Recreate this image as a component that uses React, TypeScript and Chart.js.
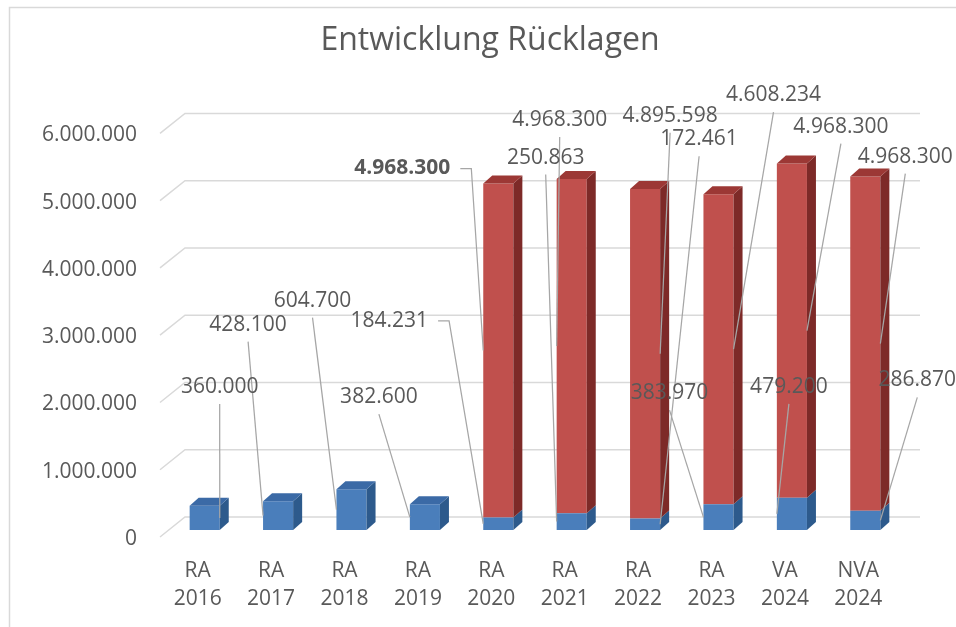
import React, { useEffect, useRef } from "react";
import { Chart, registerables } from "chart.js";

Chart.register(...registerables);

// ---------- data ----------
const categories: string[][] = [
  ["RA", "2016"], ["RA", "2017"], ["RA", "2018"], ["RA", "2019"], ["RA", "2020"],
  ["RA", "2021"], ["RA", "2022"], ["RA", "2023"], ["VA", "2024"], ["NVA", "2024"],
];
const seriesBlue: (number | null)[] = [360000, 428100, 604700, 382600, 184231, 250863, 172461, 383970, 479200, 286870];
const seriesRed: (number | null)[] = [null, null, null, null, 4968300, 4968300, 4895598, 4608234, 4968300, 4968300];
const yTicksMax = 6000000;
const yTicksStep = 1000000;
const chartTitle = "Entwicklung Rücklagen";

// label placement (pixel offsets of label centre from bar centre / segment middle)
const blueLabelOffsets: number[][] = [
  [15, -131], [-30, -191], [-39, -209], [-46, -120], [-109, -203],
  [-26, -364], [54, -385], [-49, -124], [-3, -127], [52, -140],
];
const redLabelOffsets: (number[] | null)[] = [
  null, null, null, null, [-96, -182], [-12, -226], [25, -238], [55, -254], [49, -204], [40, -187],
];
const blueLeaderMode: string[] = ["bottom", "bottom", "bottom", "bottom", "right", "bottom", "bottom", "bottom", "bottom", "bottom"];
const redLeaderMode: string[] = ["", "", "", "", "right", "bottom", "bottom", "bottom", "bottom", "bottom"];
const redLabelBold: boolean[] = [false, false, false, false, true, false, false, false, false, false];

// ---------- style ----------
const FONT = "'Open Sans', 'DejaVu Sans', sans-serif";
const TEXT = "#595959";
const GRID = "#d9d9d9";
const BLUE = { front: "#4a7ebb", side: "#2d5a8c", top: "#3b6aa6" };
const RED = { front: "#c0504d", side: "#7d2a28", top: "#9c3835" };
const DX = 9;
const DY = -8;

const fmt = (v: number) => String(Math.round(v)).replace(/\B(?=(\d{3})+(?!\d))/g, ".");

const excel3d = {
  id: "excel3d",
  beforeDraw(chart: any) {
    const ctx = chart.ctx;
    ctx.save();
    ctx.strokeStyle = GRID;
    ctx.lineWidth = 1.5;
    ctx.beginPath();
    ctx.moveTo(9.5, chart.height);
    ctx.lineTo(9.5, 7.5);
    ctx.lineTo(chart.width, 7.5);
    ctx.stroke();
    ctx.restore();
  },
  beforeDatasetsDraw(chart: any) {
    const ctx = chart.ctx;
    const ys = chart.scales.y;
    const { left, right } = chart.chartArea;
    ctx.save();
    ctx.strokeStyle = GRID;
    ctx.lineWidth = 1.5;
    ys.ticks.forEach((t: any) => {
      const py = ys.getPixelForValue(t.value);
      ctx.beginPath();
      ctx.moveTo(left - 8, py + 7);
      ctx.lineTo(left + 17, py - 13);
      ctx.lineTo(right + 18, py - 13);
      ctx.stroke();
    });
    ctx.restore();
  },
  afterDatasetsDraw(chart: any) {
    const ctx = chart.ctx;
    const sets = [
      { idx: 0, col: BLUE, data: seriesBlue },
      { idx: 1, col: RED, data: seriesRed },
    ];
    ctx.save();
    sets.forEach(({ idx, col, data }) => {
      const meta = chart.getDatasetMeta(idx);
      meta.data.forEach((bar: any, i: number) => {
        const v = data[i];
        if (v == null) return;
        const { x, y, base, width } = bar.getProps(["x", "y", "base", "width"], true);
        const l = x - width / 2;
        const r = x + width / 2;
        ctx.fillStyle = col.side;
        ctx.beginPath();
        ctx.moveTo(r, base);
        ctx.lineTo(r + DX, base + DY);
        ctx.lineTo(r + DX, y + DY);
        ctx.lineTo(r, y);
        ctx.closePath();
        ctx.fill();
        const isTop = idx === 1 || seriesRed[i] == null;
        if (isTop) {
          ctx.fillStyle = col.top;
          ctx.beginPath();
          ctx.moveTo(l, y);
          ctx.lineTo(l + DX, y + DY);
          ctx.lineTo(r + DX, y + DY);
          ctx.lineTo(r, y);
          ctx.closePath();
          ctx.fill();
        }
      });
    });
    ctx.restore();
  },
  afterDraw(chart: any) {
    const ctx = chart.ctx;
    const items: any[] = [];
    const sets = [
      { idx: 0, data: seriesBlue, offs: blueLabelOffsets, mode: blueLeaderMode, bold: null as any },
      { idx: 1, data: seriesRed, offs: redLabelOffsets, mode: redLeaderMode, bold: redLabelBold },
    ];
    sets.forEach(({ idx, data, offs, mode, bold }) => {
      const meta = chart.getDatasetMeta(idx);
      meta.data.forEach((bar: any, i: number) => {
        const v = data[i];
        const o = offs[i];
        if (v == null || !o) return;
        const { x, y, base, width } = bar.getProps(["x", "y", "base", "width"], true);
        const mid = (y + base) / 2;
        const cx = x + o[0];
        const cy = mid + o[1];
        const ax = cx >= x ? x + width / 2 : x - width / 2;
        items.push({ text: fmt(v), cx, cy, ax, ay: mid, mode: mode[i], bold: bold ? bold[i] : false });
      });
    });
    ctx.save();
    ctx.strokeStyle = "#a6a6a6";
    ctx.lineWidth = 1.25;
    items.forEach((it) => {
      ctx.font = `${it.bold ? "bold " : ""}21px ${FONT}`;
      const w = ctx.measureText(it.text).width;
      ctx.beginPath();
      if (it.mode === "right") {
        const sx = it.cx + w / 2 + 10;
        ctx.moveTo(sx, it.cy);
        ctx.lineTo(sx + 11, it.cy);
        ctx.lineTo(it.ax, it.ay);
      } else {
        ctx.moveTo(it.cx, it.cy + 17);
        ctx.lineTo(it.ax, it.ay);
      }
      ctx.stroke();
    });
    ctx.fillStyle = TEXT;
    ctx.textAlign = "center";
    ctx.textBaseline = "middle";
    items.forEach((it) => {
      ctx.font = `${it.bold ? "bold " : ""}21px ${FONT}`;
      ctx.fillText(it.text, it.cx, it.cy);
    });
    ctx.restore();
  },
};

export default function App() {
  const ref = useRef<HTMLCanvasElement>(null);
  useEffect(() => {
    if (!ref.current) return;
    const chart = new Chart(ref.current, {
      type: "bar",
      data: {
        labels: categories,
        datasets: [
          { label: "Blau", data: seriesBlue, backgroundColor: BLUE.front, borderWidth: 0 },
          { label: "Rot", data: seriesRed, backgroundColor: RED.front, borderWidth: 0 },
        ],
      },
      options: {
        animation: false,
        responsive: false,
        devicePixelRatio: 1,
        layout: { padding: { left: 24, right: 0, top: 0, bottom: 0 } },
        datasets: { bar: { categoryPercentage: 1, barPercentage: 0.41 } },
        plugins: {
          legend: { display: false },
          tooltip: { enabled: false },
          title: {
            display: true,
            text: chartTitle,
            color: TEXT,
            font: { family: FONT, size: 32, weight: "normal", lineHeight: 1.2 },
            padding: { top: 22, bottom: 66 },
          },
        },
        scales: {
          x: {
            stacked: true,
            grid: { display: false, drawTicks: false },
            border: { display: false },
            ticks: {
              color: TEXT,
              font: { family: FONT, size: 21, lineHeight: 1.33 },
              padding: 27,
              labelOffset: -7,
              maxRotation: 0,
              autoSkip: false,
            },
            afterFit: (s: any) => { s.height = 97; },
          },
          y: {
            stacked: true,
            min: 0,
            max: yTicksMax,
            grid: { display: false, drawTicks: false },
            border: { display: false },
            ticks: {
              stepSize: yTicksStep,
              color: TEXT,
              font: { family: FONT, size: 21 },
              padding: 31,
              labelOffset: 9,
              callback: (v: any) => fmt(Number(v)),
            },
            afterFit: (s: any) => { s.width = 144; },
          },
          yRightSpace: {
            type: "linear",
            position: "right",
            display: true,
            grid: { display: false, drawTicks: false },
            border: { display: false },
            ticks: { display: false },
            afterFit: (s: any) => { s.width = 54; },
          },
        },
      },
      plugins: [excel3d],
    });
    return () => chart.destroy();
  }, []);
  return (
    <div style={{ position: "fixed", left: 0, top: 0, width: 956, height: 627, background: "#fff" }}>
      <canvas ref={ref} width={956} height={627} style={{ width: 956, height: 627, display: "block" }} />
    </div>
  );
}
